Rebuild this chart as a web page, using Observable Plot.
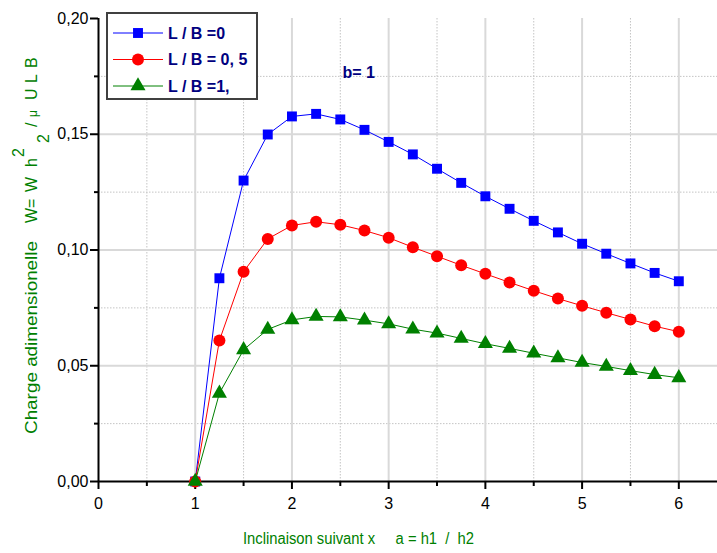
<!DOCTYPE html>
<html><head><meta charset="utf-8">
<script src="https://cdn.jsdelivr.net/npm/d3@7"></script>
<script src="https://cdn.jsdelivr.net/npm/@observablehq/plot@0.6"></script>
<style>
body{margin:0;background:#fff}
svg{font-family:Arial,"Liberation Sans",sans-serif}
</style>
</head><body><div id="chart"></div>
<script>
// ---- data ----
const xValues = [1, 1.25, 1.5, 1.75, 2, 2.25, 2.5, 2.75, 3, 3.25, 3.5, 3.75, 4, 4.25, 4.5, 4.75, 5, 5.25, 5.5, 5.75, 6];
const seriesNames = ["L / B =0", "L / B = 0, 5", "L / B =1,"];
const serieLB0 = [0, 0.0878, 0.1300, 0.1499, 0.1577, 0.1588, 0.1564, 0.1519, 0.1467, 0.1413, 0.1351, 0.1290, 0.1232, 0.1178, 0.1126, 0.1076, 0.1027, 0.0984, 0.0942, 0.0901, 0.0865];
const serieLB05 = [0, 0.0609, 0.0906, 0.1048, 0.1106, 0.1122, 0.1109, 0.1084, 0.1053, 0.1012, 0.0973, 0.0934, 0.0897, 0.0860, 0.0824, 0.0790, 0.0759, 0.0729, 0.0700, 0.0671, 0.0647];
const serieLB1 = [0, 0.0381, 0.0569, 0.0657, 0.0698, 0.0713, 0.0711, 0.0697, 0.0681, 0.0658, 0.0641, 0.0618, 0.0595, 0.0575, 0.0554, 0.0534, 0.0514, 0.0497, 0.0479, 0.0462, 0.0448];
const seriesColors = ["#0000ff", "#ff0000", "#008000"];
const seriesSymbols = ["square", "circle", "triangle"];
const seriesRadius = [5.6, 6, 5.6];
const xMajorTicks = [0, 1, 2, 3, 4, 5, 6];
const xMinorTicks = [0.5, 1.5, 2.5, 3.5, 4.5, 5.5];
const yMajorTicks = [0, 0.05, 0.10, 0.15, 0.20];
const yTickLabels = ["0,00", "0,05", "0,10", "0,15", "0,20"];
const yMinorTicks = [0.025, 0.075, 0.125, 0.175];
const annotation = [{x: 2.69, y: 0.1767, label: "b= 1"}];
const xLabel = "Inclinaison suivant x     a = h1  /  h2";
const yLabelText = "Charge adimensionelle";
const yFormulaParts = ["W=", "W", "h", "2", "2", "/", "μ", "U", "L", "B"];

// ---- build ----
const allSeries = [serieLB0, serieLB05, serieLB1];
const rows = allSeries.flatMap((vals, s) => xValues.map((x, i) => ({x, y: vals[i], series: seriesNames[s]})));

const seriesMarks = seriesNames.flatMap((name, s) => {
  const data = rows.filter(d => d.series === name);
  return [
    Plot.line(data, {x: "x", y: "y", stroke: seriesColors[s], strokeWidth: 1}),
    Plot.dot(data, {x: "x", y: "y", symbol: seriesSymbols[s], r: seriesRadius[s], fill: seriesColors[s], stroke: "none"})
  ];
});

const plot = Plot.plot({
  width: 717, height: 553,
  marginLeft: 98, marginTop: 18, marginBottom: 72, marginRight: 0,
  x: {domain: [0, 6.4]},
  y: {domain: [0, 0.2]},
  style: {fontFamily: 'Arial, "Liberation Sans", sans-serif', fontSize: "16px", color: "black", background: "white", overflow: "visible"},
  marks: [
    Plot.ruleX(xMinorTicks, {stroke: "#c4c4c4", strokeDasharray: "1.5,1.5", strokeWidth: 1}),
    Plot.ruleY(yMinorTicks, {stroke: "#c4c4c4", strokeDasharray: "1.5,1.5", strokeWidth: 1}),
    Plot.ruleX(xMajorTicks.filter(d => d > 0), {stroke: "#d9d9d9", strokeWidth: 2}),
    Plot.ruleY(yMajorTicks.filter(d => d > 0 && d < 0.2), {stroke: "#d9d9d9", strokeWidth: 2}),
    Plot.axisX(xMinorTicks, {tickSize: 5, strokeWidth: 2, tickFormat: () => "", label: null}),
    Plot.axisX(xMajorTicks, {tickSize: 8, strokeWidth: 2, tickPadding: 8, fontSize: 16, tickFormat: d => String(d), label: null}),
    Plot.axisY(yMinorTicks, {tickSize: 4, strokeWidth: 2, tickFormat: () => "", label: null}),
    Plot.axisY(yMajorTicks, {tickSize: 8, strokeWidth: 2, tickPadding: 2, fontSize: 16, tickFormat: d => yTickLabels[yMajorTicks.indexOf(d)], label: null}),
    Plot.ruleY([0], {stroke: "black", strokeWidth: 2}),
    Plot.ruleX([0], {stroke: "black", strokeWidth: 2}),
    ...seriesMarks,
    Plot.text(annotation, {x: "x", y: "y", text: "label", fill: "#000080", fontWeight: "bold", fontSize: 16})
  ]
});

const svg = d3.select(plot);

// legend
const lg = svg.append("g").attr("text-anchor", "start");
lg.append("rect").attr("x", 107).attr("y", 13).attr("width", 150).attr("height", 86)
  .attr("fill", "white").attr("stroke", "#404040").attr("stroke-width", 2);
const rowY = [33, 59.5, 86];
seriesNames.forEach((name, s) => {
  const y = rowY[s];
  lg.append("line").attr("x1", 113).attr("x2", 163).attr("y1", y).attr("y2", y)
    .attr("stroke", seriesColors[s]).attr("stroke-width", 1);
  const symType = {square: d3.symbolSquare, circle: d3.symbolCircle, triangle: d3.symbolTriangle}[seriesSymbols[s]];
  lg.append("path").attr("d", d3.symbol(symType, Math.PI * seriesRadius[s] * seriesRadius[s])())
    .attr("transform", `translate(138,${y})`).attr("fill", seriesColors[s]);
  lg.append("text").attr("x", 168).attr("y", y).attr("dy", "0.36em").attr("text-anchor", "start")
    .attr("fill", "#000080").style("font-weight", "bold").style("font-size", "16px")
    .style("white-space", "pre").text(name);
});

// x label
svg.append("text").attr("x", 243).attr("y", 544).attr("text-anchor", "start")
  .attr("textLength", 231).attr("lengthAdjust", "spacingAndGlyphs")
  .attr("fill", "#008000").style("font-size", "16px").style("white-space", "pre").text(xLabel);

// y label (rotated frame: x = -screenY, y = offset from baseline)
const yl = svg.append("text").attr("transform", "translate(37,0) rotate(-90)")
  .attr("text-anchor", "start").attr("fill", "#008000").style("font-size", "16px");
yl.append("tspan").attr("x", -434).attr("y", 0).style("font-size", "17px")
  .attr("textLength", 193).attr("lengthAdjust", "spacingAndGlyphs").text(yLabelText);
const partPos = [[-223, 0, 16], [-192, 0, 16], [-167, 0, 16], [-157, -13, 16], [-143, 12, 16],
                 [-127, 0, 16], [-117, 0, 12], [-100, 0, 16], [-83, 0, 16], [-68, 0, 16]];
yFormulaParts.forEach((t, i) => {
  const [px, py, fs] = partPos[i];
  yl.append("tspan").attr("x", px).attr("y", py).style("font-size", fs + "px").text(t);
});

document.getElementById("chart").appendChild(plot);
</script>
</body></html>
